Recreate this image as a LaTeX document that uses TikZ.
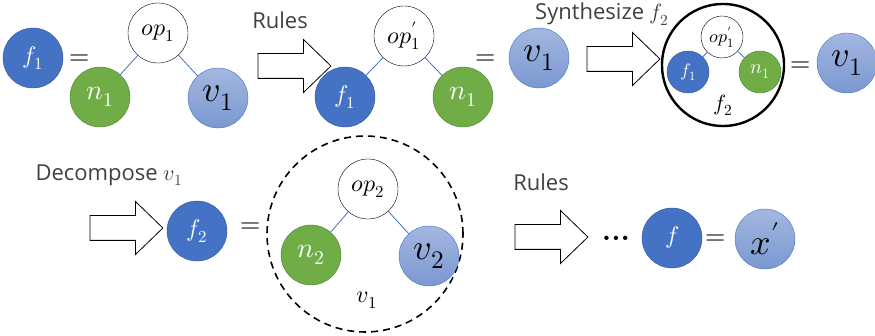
\documentclass[tikz,border=0pt]{standalone}
\usepackage{amsmath}
\usepackage{fontspec}
\usepackage{unicode-math}
\setsansfont{Open Sans}
\setmathfont{Latin Modern Math}
\usetikzlibrary{shapes.arrows}
\definecolor{fblue}{HTML}{4472C4}
\definecolor{fbluedark}{HTML}{2F5597}
\definecolor{ngreen}{HTML}{70AD47}
\definecolor{ngreendark}{HTML}{507E32}
\definecolor{vtop}{HTML}{A3B7E0}
\definecolor{vbot}{HTML}{7A98D1}
\definecolor{txtgray}{HTML}{404040}
\newcommand{\fs}[1]{\fontsize{#1}{#1}\selectfont}

\begin{document}
\begin{tikzpicture}[x=1pt,y=-1pt,
fnode/.style={circle,draw=fbluedark,fill=fblue,text=white,minimum size=60pt,inner sep=0pt,font=\fs{24}},
nnode/.style={circle,draw=ngreendark,fill=ngreen,text=white,minimum size=60pt,inner sep=0pt,font=\fs{28}},
vnode/.style={circle,draw=fblue,top color=vtop,bottom color=vbot,text=black,minimum size=60pt,inner sep=0pt,font=\fs{36}},
opnode/.style={circle,draw,fill=white,minimum size=60pt,inner sep=0pt,font=\fs{24}},
small/.style={minimum size=42pt},
edge/.style={draw=fblue,line width=0.8pt},
bigarrow/.style={single arrow,draw,line width=0.8pt,minimum height=73pt,inner xsep=0pt,inner ysep=12pt,single arrow head extend=14pt,single arrow tip angle=88},
lab/.style={font=\sffamily\fs{22},text=txtgray},
eq/.style={font=\fs{26}}]
\useasboundingbox (0,0) rectangle (875,336);
% top row: f1 = tree
\node[fnode](f1) at (33,58) {$f_1$};
\node[eq](eq1) at (80,60) {$=$};
\node[opnode](op1) at (158,33) {$op_1$};
\node[nnode](n1) at (100,97) {$n_1$};
\node[vnode](v1) at (218,98) {$v_1$};
\draw[edge](op1)--(n1);\draw[edge](op1)--(v1);
\node[lab](rules1) at (280,20) {Rules};
\node[bigarrow](ar1) at (288,66) {};
% rewritten tree
\node[opnode](op1b) at (404,36) {$op^{\prime}_{1}$};
\node[fnode](f1b) at (345,97) {$f_1$};
\node[nnode](n1b) at (463,97) {$n_1$};
\draw[edge](op1b)--(f1b);\draw[edge](op1b)--(n1b);
\node[eq](eq2) at (486,60) {$=$};
\node[vnode](v1b) at (539,58) {$v_1$};
\node[lab](synth) at (602,14) {Synthesize $f_2$};
\node[bigarrow](ar2) at (617,59) {};
% synthesized f2
\node[circle,draw,line width=2.4pt,minimum size=122pt](syn) at (723,65) {};
\node[opnode,small,font=\fs{18}](op1c) at (722,37) {$op^{\prime}_{1}$};
\node[fnode,small,font=\fs{18}](f1c) at (688,72) {$f_1$};
\node[nnode,small,font=\fs{20}](n1c) at (760,72) {$n_1$};
\draw[edge](op1c)--(f1c);\draw[edge](op1c)--(n1c);
\node[font=\fs{22}](f2lab) at (723,105) {$f_2$};
\node[eq](eq3) at (801,67) {$=$};
\node[vnode](v1c) at (847,63) {$v_1$};
% bottom row: decompose v1
\node[lab](decomp) at (109,175) {Decompose $v_1$};
\node[bigarrow](ar3) at (120,228) {};
\node[fnode](f2) at (197,231) {$f_2$};
\node[eq](eq4) at (251,228) {$=$};
\node[circle,draw,dashed,line width=1.6pt,dash pattern=on 7pt off 5pt,minimum size=196pt](dec) at (365,234) {};
\node[opnode](op2) at (368,189) {$op_2$};
\node[nnode](n2) at (311,255) {$n_2$};
\node[vnode](v2) at (429,256) {$v_2$};
\draw[edge](op2)--(n2);\draw[edge](op2)--(v2);
\node[font=\fs{24}](v1lab) at (367,300) {$v_1$};
\node[lab](rules2) at (541,182) {Rules};
\node[bigarrow](ar4) at (545,237) {};
\node[font=\bfseries\fs{30}](dots) at (616,238) {...};
\node[fnode](f) at (672,238) {$f$};
\node[eq](eq5) at (716,240) {$=$};
\node[vnode](x) at (765,239) {$x'$};
\end{tikzpicture}
\end{document}
